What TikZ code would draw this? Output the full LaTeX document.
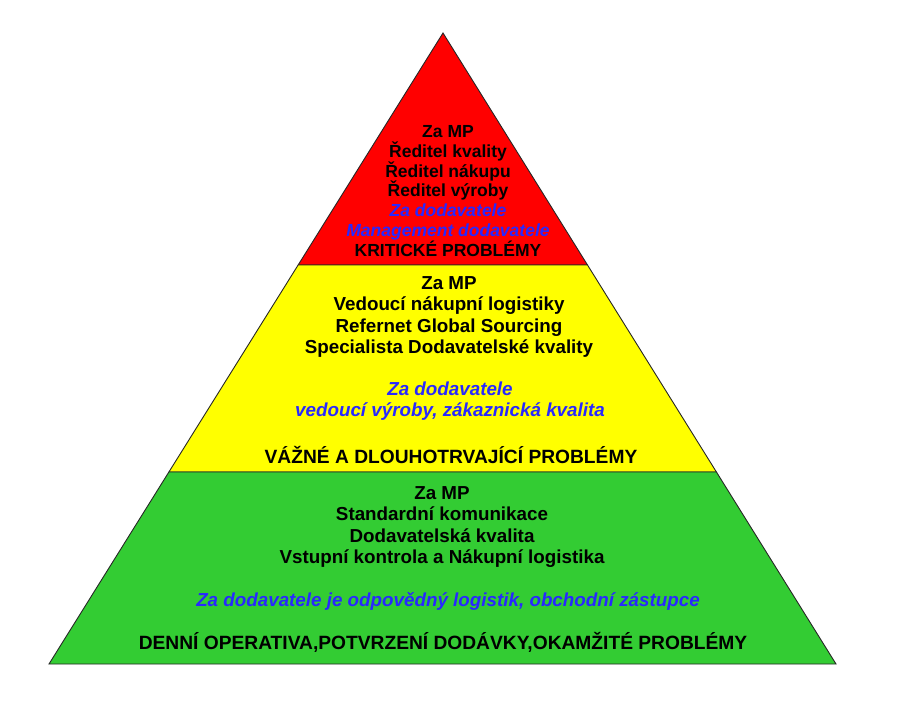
\documentclass[tikz,border=0pt]{standalone}
\usepackage{fontspec}
\setmainfont{Liberation Sans}
\usetikzlibrary{calc}
\definecolor{tierred}{RGB}{255,0,0}
\definecolor{tieryellow}{RGB}{255,255,0}
\definecolor{tiergreen}{RGB}{51,204,51}
\definecolor{supplierblue}{RGB}{40,40,255}
\newcommand{\supplier}[1]{{\color{supplierblue}\itshape #1}}
\begin{document}
\begin{tikzpicture}[x=1pt, y=-1pt,
  tier/.style={draw=black!85, line width=0.9pt, line join=miter},
  redtext/.style={align=center, inner sep=0pt, font=\fontsize{17.5}{19.8}\selectfont\bfseries},
  tiertext/.style={align=center, inner sep=0pt, font=\fontsize{18.8}{21.6}\selectfont\bfseries},
  headtext/.style={tiertext, font=\fontsize{19.2}{21.6}\selectfont\bfseries}]
\useasboundingbox (0,0) rectangle (901,720);
\coordinate (apex) at (443,33);
\coordinate (baseleft) at (49,664);
\coordinate (baseright) at (836,664);
\coordinate (redleft) at ($(apex)!0.3677!(baseleft)$);
\coordinate (redright) at ($(apex)!0.3677!(baseright)$);
\coordinate (yellowleft) at ($(apex)!0.6957!(baseleft)$);
\coordinate (yellowright) at ($(apex)!0.6957!(baseright)$);
% tiers
\filldraw[tier, fill=tierred] (apex) -- (redright) -- (redleft) -- cycle;
\filldraw[tier, fill=tieryellow] (redleft) -- (redright) -- (yellowright) -- (yellowleft) -- cycle;
\filldraw[tier, fill=tiergreen] (yellowleft) -- (yellowright) -- (baseright) -- (baseleft) -- cycle;
% critical
\node[redtext] (critical) at (448,191) {Za MP\\ Ředitel kvality\\ Ředitel nákupu\\ Ředitel výroby\\
  \supplier{Za dodavatele}\\ \supplier{Management dodavatele}\\ KRITICKÉ PROBLÉMY};
% serious
\node[tiertext] (seriousmp) at (449,317) {Za MP\\ Vedoucí nákupní logistiky\\ Refernet Global Sourcing\\ Specialista Dodavatelské kvality};
\node[tiertext] (serioussupplier) at (450,401) {\supplier{Za dodavatele}\\ \supplier{vedoucí výroby, zákaznická kvalita}};
\node[headtext] (serious) at (451,455) {VÁŽNÉ A DLOUHOTRVAJÍCÍ PROBLÉMY};
% daily
\node[tiertext] (dailymp) at (442,527) {Za MP\\ Standardní komunikace\\ Dodavatelská kvalita\\ Vstupní kontrola a Nákupní logistika};
\node[tiertext] (dailysupplier) at (448,601) {\supplier{Za dodavatele je odpovědný logistik, obchodní zástupce}};
\node[headtext] (daily) at (443,642) {DENNÍ OPERATIVA,POTVRZENÍ DODÁVKY,OKAMŽITÉ PROBLÉMY};
\end{tikzpicture}
\end{document}
